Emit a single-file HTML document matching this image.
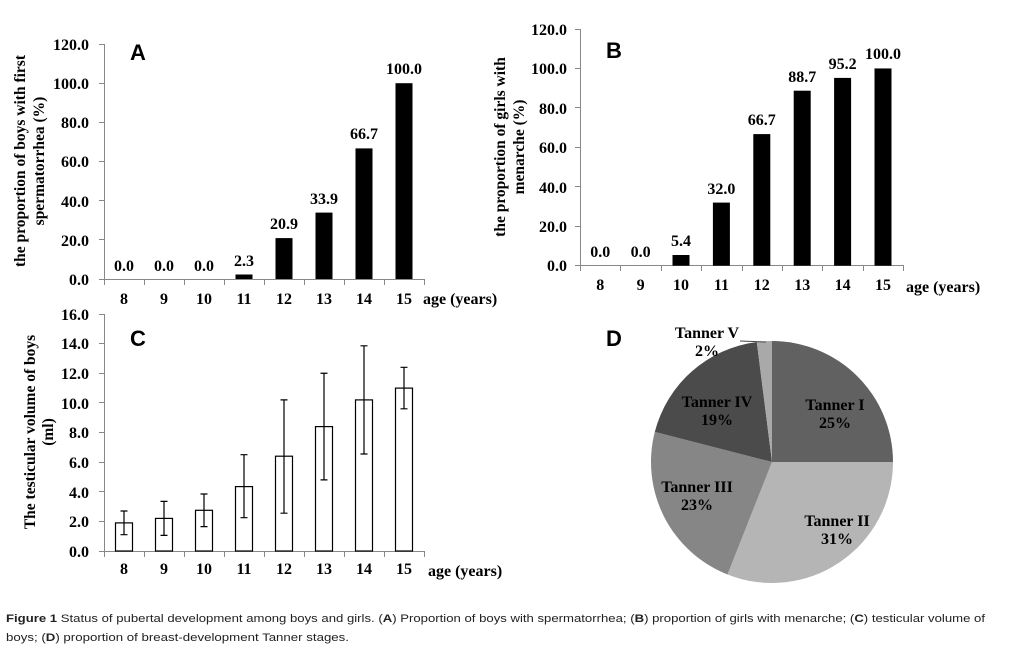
<!DOCTYPE html>
<html><head><meta charset="utf-8"><style>
body{margin:0;background:#fff;}
svg{display:block;}
.t{font-family:"Liberation Serif",serif;font-weight:bold;font-size:16px;fill:#000;}
.y{font-family:"Liberation Serif",serif;font-weight:bold;font-size:15.5px;fill:#000;}
.s{font-family:"Liberation Sans",sans-serif;font-weight:bold;font-size:22px;fill:#000;}
.c{font-family:"Liberation Sans",sans-serif;font-size:11px;fill:#222;}
</style></head><body>
<svg width="1010" height="664" viewBox="0 0 1010 664" xmlns="http://www.w3.org/2000/svg">
<rect width="1010" height="664" fill="#fff"/>
<!-- Panel A -->
<g stroke="#888" stroke-width="1" fill="none">
<path d="M104.5 44V279.5H424.5"/>
<path d="M99 44.5h5M99 83.5h5M99 122.5h5M99 161.5h5M99 200.5h5M99 239.5h5M99 279.5h5"/>
<path d="M104.5 279v6M144.5 279v6M184.5 279v6M224.5 279v6M264.5 279v6M304.5 279v6M344.5 279v6M384.5 279v6M424.5 279v6"/>
</g>
<g fill="#000">
<rect x="235.5" y="274.5" width="17" height="4.5"/>
<rect x="275.5" y="238.1" width="17" height="40.9"/>
<rect x="315.5" y="212.6" width="17" height="66.4"/>
<rect x="355.5" y="148.4" width="17" height="130.6"/>
<rect x="395.5" y="83.2" width="17" height="195.8"/>
</g>
<g class="t" text-anchor="end">
<text x="89" y="285">0.0</text><text x="89" y="246">20.0</text><text x="89" y="207">40.0</text><text x="89" y="167">60.0</text><text x="89" y="128">80.0</text><text x="89" y="89">100.0</text><text x="89" y="50">120.0</text>
</g>
<g class="t" text-anchor="middle">
<text x="124" y="271">0.0</text><text x="164" y="271">0.0</text><text x="204" y="271">0.0</text><text x="244" y="266">2.3</text><text x="284" y="229">20.9</text><text x="324" y="204">33.9</text><text x="364" y="139">66.7</text><text x="404" y="74">100.0</text>
<text x="124" y="304">8</text><text x="164" y="304">9</text><text x="204" y="304">10</text><text x="244" y="304">11</text><text x="284" y="304">12</text><text x="324" y="304">13</text><text x="364" y="304">14</text><text x="404" y="304">15</text>
</g>
<text class="t" x="423" y="304">age (years)</text>
<text class="s" x="130" y="60">A</text>
<g class="y" text-anchor="middle" transform="translate(0,161) rotate(-90)">
<text x="0" y="25">the proportion of boys with first</text>
<text x="0" y="44">spermatorrhea (%)</text>
</g>
<!-- Panel B -->
<g stroke="#888" stroke-width="1" fill="none">
<path d="M580.5 29V265.5H903.5"/>
<path d="M575 29.5h5M575 68.5h5M575 107.5h5M575 147.5h5M575 186.5h5M575 226.5h5M575 265.5h5"/>
<path d="M580.5 265v6M620.5 265v6M661.5 265v6M701.5 265v6M742.5 265v6M782.5 265v6M822.5 265v6M863.5 265v6M903.5 265v6"/>
</g>
<g fill="#000">
<rect x="672.5" y="255" width="17" height="10.7"/>
<rect x="712.9" y="202.6" width="17" height="63.1"/>
<rect x="753.3" y="134.1" width="17" height="131.6"/>
<rect x="793.7" y="90.7" width="17" height="175"/>
<rect x="834.1" y="77.9" width="17" height="187.8"/>
<rect x="874.5" y="68.45" width="17" height="197.25"/>
</g>
<g class="t" text-anchor="end">
<text x="567" y="271">0.0</text><text x="567" y="232">20.0</text><text x="567" y="193">40.0</text><text x="567" y="153">60.0</text><text x="567" y="114">80.0</text><text x="567" y="74">100.0</text><text x="567" y="35">120.0</text>
</g>
<g class="t" text-anchor="middle">
<text x="600.2" y="257">0.0</text><text x="640.6" y="257">0.0</text><text x="681" y="246">5.4</text><text x="721.4" y="194">32.0</text><text x="761.8" y="125">66.7</text><text x="802.2" y="82">88.7</text><text x="842.6" y="69">95.2</text><text x="883" y="59">100.0</text>
<text x="600.2" y="290">8</text><text x="640.6" y="290">9</text><text x="681" y="290">10</text><text x="721.4" y="290">11</text><text x="761.8" y="290">12</text><text x="802.2" y="290">13</text><text x="842.6" y="290">14</text><text x="883" y="290">15</text>
</g>
<text class="t" x="906" y="292">age (years)</text>
<text class="s" x="606" y="58">B</text>
<g class="y" text-anchor="middle" transform="translate(0,147) rotate(-90)">
<text x="0" y="505">the proportion of girls with</text>
<text x="0" y="524">menarche  (%)</text>
</g>
<!-- Panel C -->
<g stroke="#888" stroke-width="1" fill="none">
<path d="M104.5 314V551.5H424.5"/>
<path d="M99 314.5h5M99 343.5h5M99 373.5h5M99 402.5h5M99 432.5h5M99 462.5h5M99 491.5h5M99 521.5h5M99 551.5h5"/>
<path d="M104.5 551v6M144.5 551v6M184.5 551v6M224.5 551v6M264.5 551v6M304.5 551v6M344.5 551v6M384.5 551v6M424.5 551v6"/>
</g>
<g fill="#fff" stroke="#000" stroke-width="1.2">
<rect x="115.5" y="522.9" width="17" height="28.1"/>
<rect x="155.5" y="518.4" width="17" height="32.6"/>
<rect x="195.5" y="510.3" width="17" height="40.7"/>
<rect x="235.5" y="486.6" width="17" height="64.4"/>
<rect x="275.5" y="456.2" width="17" height="94.8"/>
<rect x="315.5" y="426.6" width="17" height="124.4"/>
<rect x="355.5" y="399.9" width="17" height="151.1"/>
<rect x="395.5" y="388.1" width="17" height="162.9"/>
</g>
<g stroke="#000" stroke-width="1.2" fill="none">
<path d="M124 534.7V511M120.5 534.7h7M120.5 511h7"/>
<path d="M164 535.4V501.4M160.5 535.4h7M160.5 501.4h7"/>
<path d="M204 526.6V494M200.5 526.6h7M200.5 494h7"/>
<path d="M244 517.7V454.7M240.5 517.7h7M240.5 454.7h7"/>
<path d="M284 513.2V399.9M280.5 513.2h7M280.5 399.9h7"/>
<path d="M324 479.9V373.25M320.5 479.9h7M320.5 373.25h7"/>
<path d="M364 454V345.8M360.5 454h7M360.5 345.8h7"/>
<path d="M404 408.8V367.3M400.5 408.8h7M400.5 367.3h7"/>
</g>
<g class="t" text-anchor="end">
<text x="89" y="557">0.0</text><text x="89" y="527">2.0</text><text x="89" y="498">4.0</text><text x="89" y="468">6.0</text><text x="89" y="438">8.0</text><text x="89" y="409">10.0</text><text x="89" y="379">12.0</text><text x="89" y="349">14.0</text><text x="89" y="320">16.0</text>
</g>
<g class="t" text-anchor="middle">
<text x="124" y="574">8</text><text x="164" y="574">9</text><text x="204" y="574">10</text><text x="244" y="574">11</text><text x="284" y="574">12</text><text x="324" y="574">13</text><text x="364" y="574">14</text><text x="404" y="574">15</text>
</g>
<text class="t" x="428" y="576">age (years)</text>
<text class="s" x="130" y="346">C</text>
<g class="y" text-anchor="middle" transform="translate(0,432) rotate(-90)">
<text x="0" y="35">The testicular volume of boys</text>
<text x="0" y="53">(ml)</text>
</g>
<!-- Panel D -->
<path d="M772 462L772 341A121 121 0 0 1 893 462Z" fill="#616161"/>
<path d="M772 462L893 462A121 121 0 0 1 727.5 574.5Z" fill="#b5b5b5"/>
<path d="M772 462L727.5 574.5A121 121 0 0 1 654.8 431.9Z" fill="#868686"/>
<path d="M772 462L654.8 431.9A121 121 0 0 1 756.8 342Z" fill="#4b4b4b"/>
<path d="M772 462L756.8 342A121 121 0 0 1 772 341Z" fill="#a9a9a9"/>
<path d="M740 341L766 342" stroke="#444" stroke-width="1"/>
<g class="t" text-anchor="middle">
<text x="835" y="410">Tanner I</text><text x="835" y="428">25%</text>
<text x="837" y="526">Tanner II</text><text x="837" y="544">31%</text>
<text x="697" y="492">Tanner III</text><text x="697" y="510">23%</text>
<text x="717" y="407">Tanner IV</text><text x="717" y="425">19%</text>
<text x="707" y="338">Tanner V</text><text x="707" y="356">2%</text>
</g>
<text class="s" x="606" y="346">D</text>
<!-- Caption -->
<text class="c" x="6" y="622" textLength="979" lengthAdjust="spacingAndGlyphs"><tspan font-weight="bold">Figure 1</tspan> Status of pubertal development among boys and girls. (<tspan font-weight="bold">A</tspan>) Proportion of boys with spermatorrhea; (<tspan font-weight="bold">B</tspan>) proportion of girls with menarche; (<tspan font-weight="bold">C</tspan>) testicular volume of</text>
<text class="c" x="6" y="641" textLength="343" lengthAdjust="spacingAndGlyphs">boys; (<tspan font-weight="bold">D</tspan>) proportion of breast-development Tanner stages.</text>
</svg>
</body></html>
